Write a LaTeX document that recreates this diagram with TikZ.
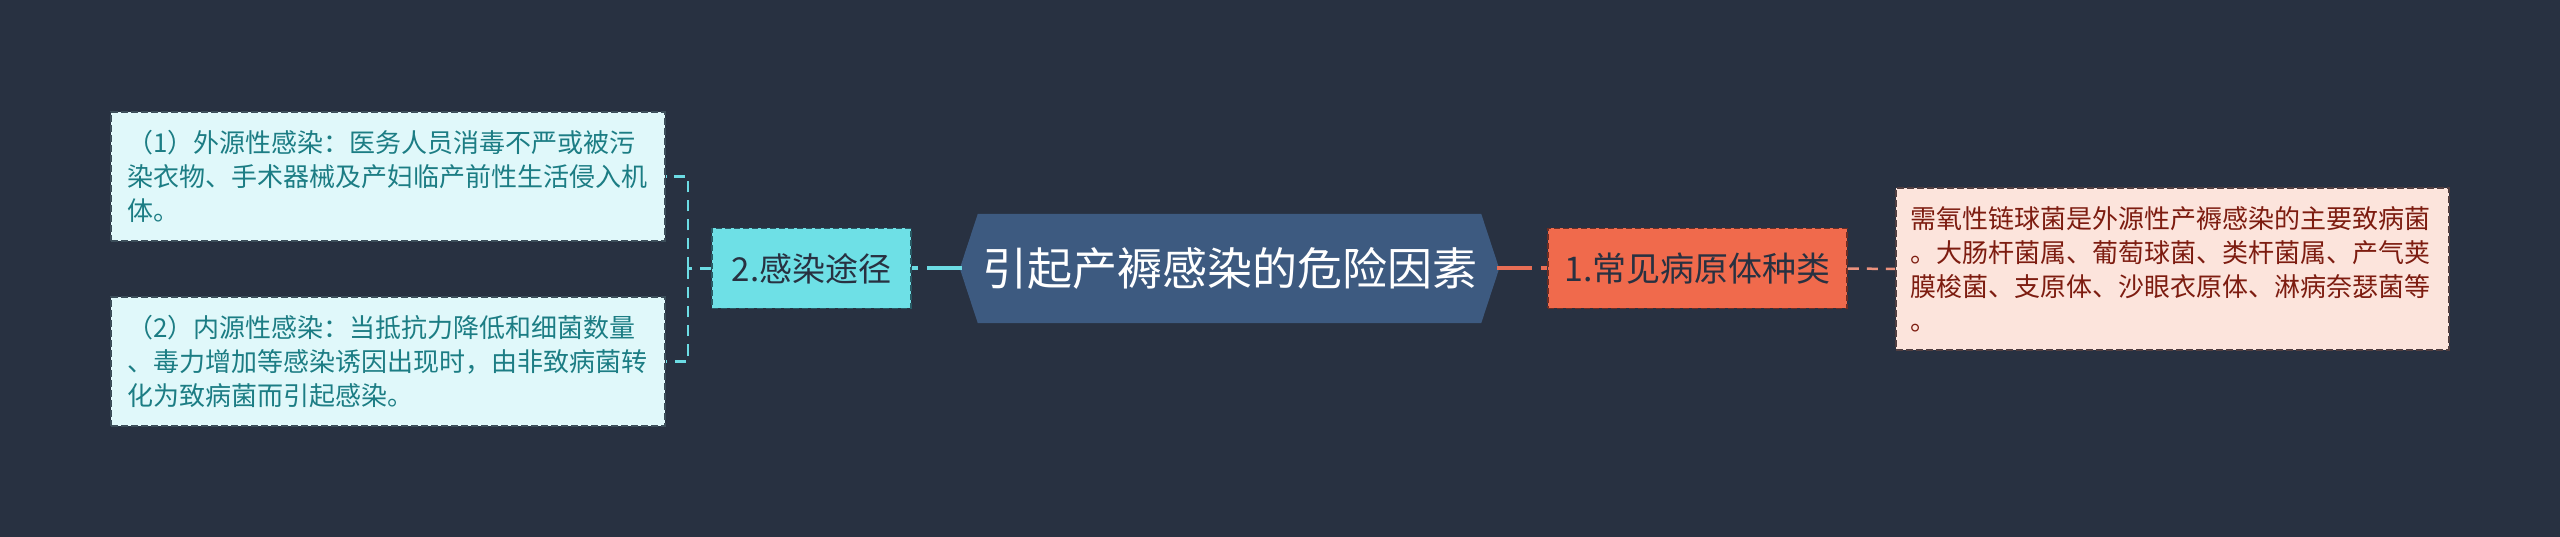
\documentclass[tikz,border=0pt]{standalone}
\usepackage{fontspec}
\setmainfont{Noto Sans CJK SC}
\definecolor{bg}{RGB}{40,49,65}
\definecolor{centralfill}{RGB}{61,90,128}
\definecolor{cyanfill}{RGB}{110,224,230}
\definecolor{cyanline}{RGB}{108,220,228}
\definecolor{cyanborder}{RGB}{40,90,100}
\definecolor{lightfill}{RGB}{224,248,250}
\definecolor{lighttext}{RGB}{28,125,132}
\definecolor{lightborder}{RGB}{60,78,90}
\definecolor{orangefill}{RGB}{240,106,76}
\definecolor{orangeline}{RGB}{232,110,85}
\definecolor{orangeborder}{RGB}{110,45,35}
\definecolor{pinkfill}{RGB}{252,228,220}
\definecolor{pinktext}{RGB}{125,28,16}
\definecolor{pinkborder}{RGB}{80,62,64}
\definecolor{salmonline}{RGB}{235,145,125}
\definecolor{darktext}{RGB}{40,49,65}
\tikzset{
  centralbox/.style={minimum width=539pt, minimum height=109pt, inner sep=0pt,
    text=white, font=\fontsize{45}{54}\selectfont},
  branchbox/.style={minimum height=80pt, inner sep=0pt, draw, line width=1.5pt,
    dash pattern=on 6pt off 3pt},
  leafbox/.style={inner xsep=16pt, text width=522pt, minimum height=129pt, align=left,
    draw, line width=1.8pt, dash pattern=on 7pt off 3pt,
    font=\fontsize{26}{34}\selectfont},
  thickconn/.style={line width=4pt, dash pattern=on 35pt off 9pt},
  thinconn/.style={line width=2.5pt, dash pattern=on 11pt off 8pt},
}
\begin{document}
\begin{tikzpicture}[x=1pt,y=-1pt]
\fill[bg] (0,0) rectangle (2560,537);
\useasboundingbox (0,0) rectangle (2560,537);

% central node
\node[centralbox] (c) at (1229.5,268.5) {引起产褥感染的危险因素};
\fill[centralfill] (c.west) -- ([xshift=18pt]c.north west) -- ([xshift=-18pt]c.north east)
  -- (c.east) -- ([xshift=-18pt]c.south east) -- ([xshift=18pt]c.south west) -- cycle;
\node[centralbox] at (c.center) {引起产褥感染的危险因素};

% branch nodes
\node[branchbox, minimum width=199pt, fill=cyanfill, draw=cyanborder, text=darktext,
  font=\fontsize{33}{40}\selectfont] (n2) at (811.5,268.5) {2.感染途径};
\node[branchbox, minimum width=299pt, fill=orangefill, draw=orangeborder, text=darktext,
  font=\fontsize{34}{40}\selectfont] (n1) at (1697.5,268.5) {1.常见病原体种类};

% leaf boxes
\node[leafbox, fill=lightfill, draw=lightborder, text=lighttext] (b1) at (388,176.5)
  {（1）外源性感染：医务人员消毒不严或被污\\染衣物、手术器械及产妇临产前性生活侵入机\\体。};
\node[leafbox, fill=lightfill, draw=lightborder, text=lighttext] (b2) at (388,361.5)
  {（2）内源性感染：当抵抗力降低和细菌数量\\、毒力增加等感染诱因出现时，由非致病菌转\\化为致病菌而引起感染。};
\node[leafbox, minimum height=162pt, inner xsep=14pt, text width=525pt, fill=pinkfill,
  draw=pinkborder, text=pinktext] (r1) at (2172.5,269)
  {需氧性链球菌是外源性产褥感染的主要致病菌\\。大肠杆菌属、葡萄球菌、类杆菌属、产气荚\\膜梭菌、支原体、沙眼衣原体、淋病奈瑟菌等\\。};

% connectors
\draw[thickconn, cyanline] ([xshift=2pt]c.west) -- (n2.east);
\draw[thickconn, orangeline] ([xshift=-2pt]c.east) -- (n1.west);
\draw[thinconn, salmonline] (n1.east) -- (r1.west);
\coordinate (j) at (688,268.5);
\draw[thinconn, cyanline] (n2.west) -- (j);
\draw[thinconn, cyanline] (j) |- (b1.east);
\draw[thinconn, cyanline] (j) |- (b2.east);
\end{tikzpicture}
\end{document}
